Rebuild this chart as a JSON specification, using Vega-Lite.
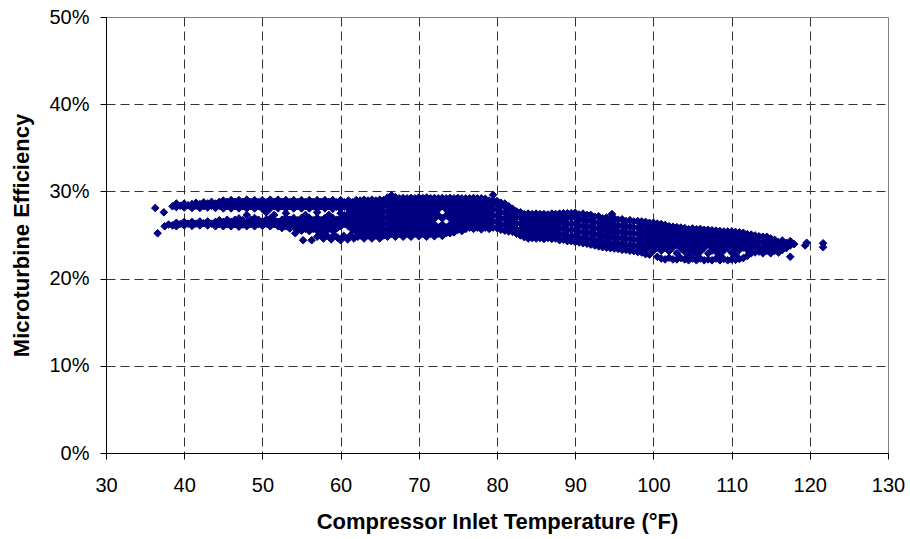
{
"$schema":"https://vega.github.io/schema/vega-lite/v6.json",
"width":782,"height":436,
"autosize":"none",
"padding":{"left":106,"top":17,"right":22,"bottom":86},
"background":"white",
"config":{"view":{"stroke":"#808080","strokeWidth":1},"font":"Liberation Sans"},
"data":{"values":[
{"t":36.3,"e":28.1},{"t":37.4,"e":27.6},{"t":36.6,"e":25.2},
{"t":37.5,"e":26.0},{"t":38.0,"e":26.2},
{"t":38.5,"e":26.1},{"t":38.5,"e":28.3},
{"t":39.0,"e":26.0},{"t":39.0,"e":26.4},{"t":39.0,"e":28.2},{"t":39.0,"e":28.6},
{"t":39.5,"e":26.25},{"t":39.5,"e":28.35},
{"t":40.0,"e":26.1},{"t":40.0,"e":26.5},{"t":40.0,"e":28.15},{"t":40.0,"e":28.6},
{"t":40.5,"e":26.3},{"t":40.5,"e":28.4},
{"t":41.0,"e":26.05},{"t":41.0,"e":26.5},{"t":41.0,"e":28.1},{"t":41.0,"e":28.55},
{"t":41.5,"e":26.3},{"t":41.5,"e":28.35},{"t":41.5,"e":28.7},
{"t":42.0,"e":26.1},{"t":42.0,"e":26.55},{"t":42.0,"e":28.1},{"t":42.0,"e":28.55},
{"t":42.5,"e":26.35},{"t":42.5,"e":28.3},{"t":42.5,"e":28.75},
{"t":43.0,"e":26.1},{"t":43.0,"e":26.55},{"t":43.0,"e":28.15},{"t":43.0,"e":28.6},
{"t":43.5,"e":26.3},{"t":43.5,"e":28.35},{"t":43.5,"e":28.8},
{"t":44.0,"e":26.0},{"t":44.0,"e":26.5},{"t":44.0,"e":28.1},{"t":44.0,"e":28.6},
{"t":44.5,"e":26.25},{"t":44.5,"e":26.7},{"t":44.5,"e":28.35},{"t":44.5,"e":28.8},
{"t":45.0,"e":26.0},{"t":45.0,"e":26.5},{"t":45.0,"e":28.05},{"t":45.0,"e":28.55},{"t":45.0,"e":28.95},
{"t":45.5,"e":26.25},{"t":45.5,"e":26.75},{"t":45.5,"e":28.3},{"t":45.5,"e":28.8},
{"t":46.0,"e":26.0},{"t":46.0,"e":26.5},{"t":46.0,"e":28.05},{"t":46.0,"e":28.55},{"t":46.0,"e":29.0},
{"t":46.5,"e":26.25},{"t":46.5,"e":26.75},{"t":46.5,"e":28.3},{"t":46.5,"e":28.8},
{"t":47.0,"e":25.95},{"t":47.0,"e":26.45},{"t":47.0,"e":26.9},{"t":47.0,"e":28.05},{"t":47.0,"e":28.55},{"t":47.0,"e":29.0},
{"t":47.5,"e":26.2},{"t":47.5,"e":26.7},{"t":47.5,"e":28.3},{"t":47.5,"e":28.8},
{"t":48.0,"e":26.0},{"t":48.0,"e":26.5},{"t":48.0,"e":27.3},{"t":48.0,"e":28.05},{"t":48.0,"e":28.55},{"t":48.0,"e":29.05},
{"t":48.5,"e":26.25},{"t":48.5,"e":26.75},{"t":48.5,"e":28.3},{"t":48.5,"e":28.8},
{"t":49.0,"e":26.0},{"t":49.0,"e":26.5},{"t":49.0,"e":26.95},{"t":49.0,"e":28.05},{"t":49.0,"e":28.55},{"t":49.0,"e":29.0},
{"t":49.5,"e":26.25},{"t":49.5,"e":26.75},{"t":49.5,"e":28.3},{"t":49.5,"e":28.8},
{"t":50.0,"e":26.05},{"t":50.0,"e":26.55},{"t":50.0,"e":28.0},{"t":50.0,"e":28.5},{"t":50.0,"e":29.0},
{"t":50.5,"e":26.3},{"t":50.5,"e":26.8},{"t":50.5,"e":27.6},{"t":50.5,"e":28.25},{"t":50.5,"e":28.75},
{"t":51.0,"e":26.0},{"t":51.0,"e":26.5},{"t":51.0,"e":26.9},{"t":51.0,"e":28.05},{"t":51.0,"e":28.55},{"t":51.0,"e":29.05},
{"t":51.5,"e":26.25},{"t":51.5,"e":26.75},{"t":51.5,"e":27.3},{"t":51.5,"e":28.3},{"t":51.5,"e":28.8},
{"t":52.0,"e":26.0},{"t":52.0,"e":26.5},{"t":52.0,"e":28.05},{"t":52.0,"e":28.55},{"t":52.0,"e":29.05},
{"t":52.5,"e":25.8},{"t":52.5,"e":26.25},{"t":52.5,"e":26.75},{"t":52.5,"e":28.3},{"t":52.5,"e":28.8},
{"t":53.0,"e":26.0},{"t":53.0,"e":26.5},{"t":53.0,"e":27.0},{"t":53.0,"e":27.5},{"t":53.0,"e":28.05},{"t":53.0,"e":28.55},{"t":53.0,"e":29.0},
{"t":53.5,"e":25.75},{"t":53.5,"e":26.25},{"t":53.5,"e":26.75},{"t":53.5,"e":28.3},{"t":53.5,"e":28.8},
{"t":54.0,"e":25.95},{"t":54.0,"e":26.45},{"t":54.0,"e":26.95},{"t":54.0,"e":28.05},{"t":54.0,"e":28.55},{"t":54.0,"e":29.0},
{"t":54.5,"e":25.7},{"t":54.5,"e":26.2},{"t":54.5,"e":26.7},{"t":54.5,"e":28.3},{"t":54.5,"e":28.8},
{"t":55.0,"e":25.5},{"t":55.0,"e":25.95},{"t":55.0,"e":26.45},{"t":55.0,"e":26.95},{"t":55.0,"e":28.05},{"t":55.0,"e":28.55},{"t":55.0,"e":29.0},
{"t":55.5,"e":25.7},{"t":55.5,"e":26.2},{"t":55.5,"e":26.7},{"t":55.5,"e":27.3},{"t":55.5,"e":28.3},{"t":55.5,"e":28.8},
{"t":56.0,"e":25.45},{"t":56.0,"e":25.95},{"t":56.0,"e":26.45},{"t":56.0,"e":26.95},{"t":56.0,"e":28.05},{"t":56.0,"e":28.55},{"t":56.0,"e":29.0},
{"t":56.5,"e":25.7},{"t":56.5,"e":26.2},{"t":56.5,"e":26.7},{"t":56.5,"e":28.3},{"t":56.5,"e":28.8},
{"t":57.0,"e":25.5},{"t":57.0,"e":25.95},{"t":57.0,"e":26.45},{"t":57.0,"e":26.95},{"t":57.0,"e":27.6},{"t":57.0,"e":28.05},{"t":57.0,"e":28.55},{"t":57.0,"e":29.0},
{"t":57.5,"e":25.7},{"t":57.5,"e":26.2},{"t":57.5,"e":26.7},{"t":57.5,"e":28.3},{"t":57.5,"e":28.8},
{"t":58.0,"e":25.45},{"t":58.0,"e":25.95},{"t":58.0,"e":26.45},{"t":58.0,"e":26.95},{"t":58.0,"e":28.05},{"t":58.0,"e":28.55},{"t":58.0,"e":29.0},
{"t":58.5,"e":25.7},{"t":58.5,"e":26.2},{"t":58.5,"e":26.7},{"t":58.5,"e":27.3},{"t":58.5,"e":28.3},{"t":58.5,"e":28.8},
{"t":59.0,"e":25.5},{"t":59.0,"e":25.95},{"t":59.0,"e":26.45},{"t":59.0,"e":26.95},{"t":59.0,"e":28.0},{"t":59.0,"e":28.5},{"t":59.0,"e":29.0},
{"t":59.5,"e":25.75},{"t":59.5,"e":26.25},{"t":59.5,"e":26.75},{"t":59.5,"e":28.25},{"t":59.5,"e":28.75},
{"t":60.0,"e":26.0},{"t":60.0,"e":26.5},{"t":60.0,"e":26.95},{"t":60.0,"e":27.5},{"t":60.0,"e":28.0},{"t":60.0,"e":28.5},{"t":60.0,"e":29.0},
{"t":60.5,"e":26.25},{"t":60.5,"e":26.75},{"t":60.5,"e":27.25},{"t":60.5,"e":28.25},{"t":60.5,"e":28.75},
{"t":61.0,"e":26.0},{"t":61.0,"e":26.5},{"t":61.0,"e":27.0},{"t":61.0,"e":27.5},{"t":61.0,"e":28.0},{"t":61.0,"e":28.5},{"t":61.0,"e":28.95},
{"t":61.5,"e":25.6},{"t":61.5,"e":26.25},{"t":61.5,"e":26.75},{"t":61.5,"e":27.25},{"t":61.5,"e":27.75},{"t":61.5,"e":28.25},{"t":61.5,"e":28.75},
{"t":62.0,"e":25.4},{"t":62.0,"e":26.0},{"t":62.0,"e":26.5},{"t":62.0,"e":27.0},{"t":62.0,"e":27.5},{"t":62.0,"e":28.0},{"t":62.0,"e":28.5},{"t":62.0,"e":29.0},
{"t":54.2,"e":25.2},{"t":55.2,"e":24.4},{"t":56.3,"e":24.4},{"t":57.0,"e":24.8},{"t":57.4,"e":25.1},{"t":57.8,"e":24.6},{"t":58.3,"e":24.9},{"t":58.8,"e":24.5},{"t":59.2,"e":25.0},{"t":59.6,"e":24.7},{"t":60.0,"e":24.4},{"t":60.4,"e":24.9},{"t":60.9,"e":24.5},{"t":61.3,"e":25.0},{"t":61.7,"e":24.6},{"t":62.2,"e":24.8},
{"t":62.5,"e":24.95},{"t":62.5,"e":25.65},{"t":62.5,"e":26.35},{"t":62.5,"e":27.05},{"t":62.5,"e":27.75},{"t":62.5,"e":28.45},{"t":62.5,"e":28.95},
{"t":63.0,"e":24.6},{"t":63.0,"e":25.3},{"t":63.0,"e":26.0},{"t":63.0,"e":26.7},{"t":63.0,"e":27.4},{"t":63.0,"e":28.1},{"t":63.0,"e":28.75},{"t":63.0,"e":29.05},
{"t":63.5,"e":24.95},{"t":63.5,"e":25.65},{"t":63.5,"e":26.35},{"t":63.5,"e":27.05},{"t":63.5,"e":27.75},{"t":63.5,"e":28.45},{"t":63.5,"e":28.95},
{"t":64.0,"e":24.6},{"t":64.0,"e":25.3},{"t":64.0,"e":26.0},{"t":64.0,"e":26.7},{"t":64.0,"e":27.4},{"t":64.0,"e":28.1},{"t":64.0,"e":28.75},{"t":64.0,"e":29.05},
{"t":64.5,"e":24.95},{"t":64.5,"e":25.65},{"t":64.5,"e":26.35},{"t":64.5,"e":27.05},{"t":64.5,"e":27.75},{"t":64.5,"e":28.45},{"t":64.5,"e":28.95},
{"t":65.0,"e":24.6},{"t":65.0,"e":25.3},{"t":65.0,"e":26.0},{"t":65.0,"e":26.7},{"t":65.0,"e":27.4},{"t":65.0,"e":28.1},{"t":65.0,"e":28.75},{"t":65.0,"e":29.05},
{"t":65.5,"e":24.95},{"t":65.5,"e":25.65},{"t":65.5,"e":26.35},{"t":65.5,"e":27.05},{"t":65.5,"e":27.75},{"t":65.5,"e":28.45},{"t":65.5,"e":29.0},
{"t":66.0,"e":24.8},{"t":66.0,"e":25.5},{"t":66.0,"e":26.2},{"t":66.0,"e":26.9},{"t":66.0,"e":27.6},{"t":66.0,"e":28.3},{"t":66.0,"e":28.9},{"t":66.0,"e":29.3},
{"t":66.5,"e":25.15},{"t":66.5,"e":25.85},{"t":66.5,"e":26.55},{"t":66.5,"e":27.25},{"t":66.5,"e":27.95},{"t":66.5,"e":28.65},{"t":66.5,"e":29.2},{"t":66.5,"e":29.55},
{"t":67.0,"e":24.8},{"t":67.0,"e":25.5},{"t":67.0,"e":26.2},{"t":67.0,"e":26.9},{"t":67.0,"e":27.6},{"t":67.0,"e":28.3},{"t":67.0,"e":28.9},{"t":67.0,"e":29.35},
{"t":67.5,"e":25.15},{"t":67.5,"e":25.85},{"t":67.5,"e":26.55},{"t":67.5,"e":27.25},{"t":67.5,"e":27.95},{"t":67.5,"e":28.65},{"t":67.5,"e":29.2},
{"t":68.0,"e":24.8},{"t":68.0,"e":25.5},{"t":68.0,"e":26.2},{"t":68.0,"e":26.9},{"t":68.0,"e":27.6},{"t":68.0,"e":28.3},{"t":68.0,"e":28.9},{"t":68.0,"e":29.25},
{"t":68.5,"e":25.15},{"t":68.5,"e":25.85},{"t":68.5,"e":26.55},{"t":68.5,"e":27.25},{"t":68.5,"e":27.95},{"t":68.5,"e":28.65},{"t":68.5,"e":29.2},
{"t":69.0,"e":24.8},{"t":69.0,"e":25.5},{"t":69.0,"e":26.2},{"t":69.0,"e":26.9},{"t":69.0,"e":27.6},{"t":69.0,"e":28.3},{"t":69.0,"e":28.9},{"t":69.0,"e":29.25},
{"t":69.5,"e":25.15},{"t":69.5,"e":25.85},{"t":69.5,"e":26.55},{"t":69.5,"e":27.25},{"t":69.5,"e":27.95},{"t":69.5,"e":28.65},{"t":69.5,"e":29.2},
{"t":70.0,"e":24.85},{"t":70.0,"e":25.5},{"t":70.0,"e":26.2},{"t":70.0,"e":26.9},{"t":70.0,"e":27.6},{"t":70.0,"e":28.3},{"t":70.0,"e":28.9},{"t":70.0,"e":29.3},
{"t":70.5,"e":25.15},{"t":70.5,"e":25.85},{"t":70.5,"e":26.55},{"t":70.5,"e":27.25},{"t":70.5,"e":27.95},{"t":70.5,"e":28.65},{"t":70.5,"e":29.25},
{"t":71.0,"e":24.8},{"t":71.0,"e":25.5},{"t":71.0,"e":26.2},{"t":71.0,"e":26.9},{"t":71.0,"e":27.6},{"t":71.0,"e":28.3},{"t":71.0,"e":28.9},{"t":71.0,"e":29.3},
{"t":71.5,"e":25.15},{"t":71.5,"e":25.85},{"t":71.5,"e":26.55},{"t":71.5,"e":27.25},{"t":71.5,"e":27.95},{"t":71.5,"e":28.65},{"t":71.5,"e":29.2},
{"t":72.0,"e":24.85},{"t":72.0,"e":25.5},{"t":72.0,"e":26.2},{"t":72.0,"e":26.9},{"t":72.0,"e":27.6},{"t":72.0,"e":28.3},{"t":72.0,"e":28.9},{"t":72.0,"e":29.25},
{"t":72.5,"e":25.15},{"t":72.5,"e":25.85},{"t":72.5,"e":27.25},{"t":72.5,"e":27.95},{"t":72.5,"e":28.65},{"t":72.5,"e":29.2},
{"t":73.0,"e":24.9},{"t":73.0,"e":25.5},{"t":73.0,"e":26.2},{"t":73.0,"e":26.9},{"t":73.0,"e":28.3},{"t":73.0,"e":28.9},{"t":73.0,"e":29.25},
{"t":73.5,"e":25.2},{"t":73.5,"e":25.85},{"t":73.5,"e":27.25},{"t":73.5,"e":27.95},{"t":73.5,"e":28.65},{"t":73.5,"e":29.2},
{"t":74.0,"e":25.2},{"t":74.0,"e":25.6},{"t":74.0,"e":26.2},{"t":74.0,"e":26.9},{"t":74.0,"e":27.6},{"t":74.0,"e":28.3},{"t":74.0,"e":28.9},{"t":74.0,"e":29.25},
{"t":74.5,"e":25.3},{"t":74.5,"e":25.85},{"t":74.5,"e":26.55},{"t":74.5,"e":27.25},{"t":74.5,"e":27.95},{"t":74.5,"e":28.65},{"t":74.5,"e":29.2},
{"t":75.0,"e":25.6},{"t":75.0,"e":26.2},{"t":75.0,"e":26.9},{"t":75.0,"e":27.6},{"t":75.0,"e":28.3},{"t":75.0,"e":28.9},{"t":75.0,"e":29.25},
{"t":75.5,"e":25.45},{"t":75.5,"e":25.95},{"t":75.5,"e":26.55},{"t":75.5,"e":27.25},{"t":75.5,"e":27.95},{"t":75.5,"e":28.65},{"t":75.5,"e":29.2},
{"t":76.0,"e":25.7},{"t":76.0,"e":26.2},{"t":76.0,"e":26.9},{"t":76.0,"e":27.6},{"t":76.0,"e":28.3},{"t":76.0,"e":28.9},{"t":76.0,"e":29.2},
{"t":76.5,"e":25.85},{"t":76.5,"e":26.55},{"t":76.5,"e":27.25},{"t":76.5,"e":27.95},{"t":76.5,"e":28.65},{"t":76.5,"e":29.2},
{"t":77.0,"e":25.7},{"t":77.0,"e":26.2},{"t":77.0,"e":26.9},{"t":77.0,"e":27.6},{"t":77.0,"e":28.3},{"t":77.0,"e":28.9},{"t":77.0,"e":29.25},
{"t":77.5,"e":25.85},{"t":77.5,"e":26.55},{"t":77.5,"e":27.25},{"t":77.5,"e":27.95},{"t":77.5,"e":28.65},{"t":77.5,"e":29.2},
{"t":78.0,"e":25.65},{"t":78.0,"e":26.2},{"t":78.0,"e":26.9},{"t":78.0,"e":27.6},{"t":78.0,"e":28.3},{"t":78.0,"e":28.9},{"t":78.0,"e":29.2},
{"t":78.5,"e":25.85},{"t":78.5,"e":26.55},{"t":78.5,"e":27.25},{"t":78.5,"e":27.95},{"t":78.5,"e":28.65},{"t":78.5,"e":29.15},
{"t":79.0,"e":25.7},{"t":79.0,"e":26.2},{"t":79.0,"e":26.9},{"t":79.0,"e":27.6},{"t":79.0,"e":28.3},{"t":79.0,"e":28.95},
{"t":79.5,"e":25.85},{"t":79.5,"e":26.55},{"t":79.5,"e":27.25},{"t":79.5,"e":27.95},{"t":79.5,"e":28.65},{"t":79.5,"e":28.95},{"t":79.5,"e":29.6},
{"t":80.0,"e":25.8},{"t":80.0,"e":26.5},{"t":80.0,"e":27.2},{"t":80.0,"e":27.9},{"t":80.0,"e":28.5},{"t":80.0,"e":28.9},
{"t":80.5,"e":25.6},{"t":80.5,"e":26.15},{"t":80.5,"e":26.85},{"t":80.5,"e":27.55},{"t":80.5,"e":28.25},{"t":80.5,"e":28.7},
{"t":81.0,"e":25.5},{"t":81.0,"e":26.2},{"t":81.0,"e":26.9},{"t":81.0,"e":27.6},{"t":81.0,"e":28.3},{"t":81.0,"e":28.6},
{"t":81.5,"e":25.4},{"t":81.5,"e":25.85},{"t":81.5,"e":26.55},{"t":81.5,"e":27.25},{"t":81.5,"e":27.95},{"t":81.5,"e":28.3},
{"t":82.0,"e":25.35},{"t":82.0,"e":26.0},{"t":82.0,"e":26.7},{"t":82.0,"e":27.4},{"t":82.0,"e":28.0},
{"t":82.5,"e":25.15},{"t":82.5,"e":25.65},{"t":82.5,"e":26.35},{"t":82.5,"e":27.05},{"t":82.5,"e":27.7},
{"t":83.0,"e":24.95},{"t":83.0,"e":25.6},{"t":83.0,"e":26.3},{"t":83.0,"e":27.0},{"t":83.0,"e":27.6},
{"t":83.5,"e":24.75},{"t":83.5,"e":25.3},{"t":83.5,"e":26.0},{"t":83.5,"e":26.7},{"t":83.5,"e":27.4},
{"t":84.0,"e":24.6},{"t":84.0,"e":25.0},{"t":84.0,"e":25.7},{"t":84.0,"e":26.4},{"t":84.0,"e":27.1},{"t":84.0,"e":27.45},
{"t":84.5,"e":24.65},{"t":84.5,"e":25.35},{"t":84.5,"e":26.05},{"t":84.5,"e":26.75},{"t":84.5,"e":27.4},
{"t":85.0,"e":24.6},{"t":85.0,"e":25.0},{"t":85.0,"e":25.7},{"t":85.0,"e":26.4},{"t":85.0,"e":27.1},{"t":85.0,"e":27.45},
{"t":85.5,"e":24.65},{"t":85.5,"e":25.35},{"t":85.5,"e":26.05},{"t":85.5,"e":26.75},{"t":85.5,"e":27.4},
{"t":86.0,"e":24.55},{"t":86.0,"e":25.0},{"t":86.0,"e":25.7},{"t":86.0,"e":26.4},{"t":86.0,"e":27.1},{"t":86.0,"e":27.4},
{"t":86.5,"e":24.65},{"t":86.5,"e":25.35},{"t":86.5,"e":26.05},{"t":86.5,"e":26.75},{"t":86.5,"e":27.35},
{"t":87.0,"e":24.55},{"t":87.0,"e":25.0},{"t":87.0,"e":25.7},{"t":87.0,"e":26.4},{"t":87.0,"e":27.1},{"t":87.0,"e":27.45},
{"t":87.5,"e":24.6},{"t":87.5,"e":25.35},{"t":87.5,"e":26.05},{"t":87.5,"e":26.75},{"t":87.5,"e":27.4},
{"t":88.0,"e":24.4},{"t":88.0,"e":25.0},{"t":88.0,"e":25.7},{"t":88.0,"e":26.4},{"t":88.0,"e":27.1},{"t":88.0,"e":27.45},
{"t":88.5,"e":24.45},{"t":88.5,"e":25.15},{"t":88.5,"e":25.85},{"t":88.5,"e":26.55},{"t":88.5,"e":27.25},{"t":88.5,"e":27.5},
{"t":89.0,"e":24.3},{"t":89.0,"e":24.9},{"t":89.0,"e":25.6},{"t":89.0,"e":26.3},{"t":89.0,"e":27.0},{"t":89.0,"e":27.5},
{"t":89.5,"e":24.3},{"t":89.5,"e":24.85},{"t":89.5,"e":25.55},{"t":89.5,"e":26.25},{"t":89.5,"e":26.95},{"t":89.5,"e":27.5},
{"t":90.0,"e":24.2},{"t":90.0,"e":24.9},{"t":90.0,"e":25.6},{"t":90.0,"e":26.3},{"t":90.0,"e":27.0},{"t":90.0,"e":27.55},
{"t":90.5,"e":24.15},{"t":90.5,"e":24.6},{"t":90.5,"e":25.3},{"t":90.5,"e":26.0},{"t":90.5,"e":26.7},{"t":90.5,"e":27.35},
{"t":91.0,"e":24.05},{"t":91.0,"e":24.7},{"t":91.0,"e":25.4},{"t":91.0,"e":26.1},{"t":91.0,"e":26.8},{"t":91.0,"e":27.45},
{"t":91.5,"e":24.0},{"t":91.5,"e":24.5},{"t":91.5,"e":25.2},{"t":91.5,"e":25.9},{"t":91.5,"e":26.6},{"t":91.5,"e":27.3},
{"t":92.0,"e":23.9},{"t":92.0,"e":24.6},{"t":92.0,"e":25.3},{"t":92.0,"e":26.0},{"t":92.0,"e":26.7},{"t":92.0,"e":27.3},
{"t":92.5,"e":23.8},{"t":92.5,"e":24.3},{"t":92.5,"e":25.0},{"t":92.5,"e":25.7},{"t":92.5,"e":26.4},{"t":92.5,"e":27.1},
{"t":93.0,"e":23.7},{"t":93.0,"e":24.4},{"t":93.0,"e":25.1},{"t":93.0,"e":25.8},{"t":93.0,"e":26.5},{"t":93.0,"e":27.15},
{"t":93.5,"e":23.6},{"t":93.5,"e":24.1},{"t":93.5,"e":24.8},{"t":93.5,"e":25.5},{"t":93.5,"e":26.2},{"t":93.5,"e":26.9},
{"t":94.0,"e":23.55},{"t":94.0,"e":24.25},{"t":94.0,"e":24.95},{"t":94.0,"e":25.65},{"t":94.0,"e":26.35},{"t":94.0,"e":27.0},
{"t":94.5,"e":23.5},{"t":94.5,"e":23.95},{"t":94.5,"e":24.65},{"t":94.5,"e":25.35},{"t":94.5,"e":26.05},{"t":94.5,"e":26.75},
{"t":94.7,"e":27.4},
{"t":95.0,"e":23.45},{"t":95.0,"e":24.1},{"t":95.0,"e":24.8},{"t":95.0,"e":25.5},{"t":95.0,"e":26.2},{"t":95.0,"e":26.9},
{"t":95.5,"e":23.4},{"t":95.5,"e":23.9},{"t":95.5,"e":24.6},{"t":95.5,"e":25.3},{"t":95.5,"e":26.0},{"t":95.5,"e":26.75},
{"t":96.0,"e":23.3},{"t":96.0,"e":24.0},{"t":96.0,"e":24.7},{"t":96.0,"e":25.4},{"t":96.0,"e":26.1},{"t":96.0,"e":26.8},
{"t":96.5,"e":23.3},{"t":96.5,"e":23.8},{"t":96.5,"e":24.5},{"t":96.5,"e":25.2},{"t":96.5,"e":25.9},{"t":96.5,"e":26.6},
{"t":97.0,"e":23.2},{"t":97.0,"e":23.9},{"t":97.0,"e":24.6},{"t":97.0,"e":25.3},{"t":97.0,"e":26.0},{"t":97.0,"e":26.7},
{"t":97.5,"e":23.15},{"t":97.5,"e":23.75},{"t":97.5,"e":24.45},{"t":97.5,"e":25.15},{"t":97.5,"e":25.85},{"t":97.5,"e":26.55},
{"t":98.0,"e":23.05},{"t":98.0,"e":23.75},{"t":98.0,"e":24.45},{"t":98.0,"e":25.15},{"t":98.0,"e":25.85},{"t":98.0,"e":26.6},
{"t":98.5,"e":23.0},{"t":98.5,"e":23.45},{"t":98.5,"e":24.1},{"t":98.5,"e":24.8},{"t":98.5,"e":25.5},{"t":98.5,"e":26.15},{"t":98.5,"e":26.55},
{"t":99.0,"e":22.8},{"t":99.0,"e":23.3},{"t":99.0,"e":23.9},{"t":99.0,"e":24.6},{"t":99.0,"e":25.3},{"t":99.0,"e":26.0},{"t":99.0,"e":26.5},
{"t":99.5,"e":22.75},{"t":99.5,"e":23.7},{"t":99.5,"e":24.3},{"t":99.5,"e":25.0},{"t":99.5,"e":25.7},{"t":99.5,"e":26.4},
{"t":100.0,"e":23.2},{"t":100.0,"e":23.95},{"t":100.0,"e":24.6},{"t":100.0,"e":25.3},{"t":100.0,"e":26.0},{"t":100.0,"e":26.4},
{"t":100.5,"e":22.5},{"t":100.5,"e":23.55},{"t":100.5,"e":24.25},{"t":100.5,"e":24.95},{"t":100.5,"e":25.65},{"t":100.5,"e":26.3},
{"t":101.0,"e":22.3},{"t":101.0,"e":23.2},{"t":101.0,"e":23.9},{"t":101.0,"e":24.6},{"t":101.0,"e":25.3},{"t":101.0,"e":25.95},{"t":101.0,"e":26.25},
{"t":101.5,"e":22.2},{"t":101.5,"e":23.55},{"t":101.5,"e":24.25},{"t":101.5,"e":24.95},{"t":101.5,"e":25.65},{"t":101.5,"e":26.15},
{"t":102.0,"e":22.4},{"t":102.0,"e":23.15},{"t":102.0,"e":23.9},{"t":102.0,"e":24.6},{"t":102.0,"e":25.3},{"t":102.0,"e":26.0},
{"t":102.5,"e":22.2},{"t":102.5,"e":23.55},{"t":102.5,"e":24.25},{"t":102.5,"e":24.95},{"t":102.5,"e":25.65},{"t":102.5,"e":25.95},
{"t":103.0,"e":22.2},{"t":103.0,"e":22.9},{"t":103.0,"e":23.9},{"t":103.0,"e":24.6},{"t":103.0,"e":25.3},{"t":103.0,"e":25.9},
{"t":103.5,"e":22.35},{"t":103.5,"e":23.45},{"t":103.5,"e":24.25},{"t":103.5,"e":24.95},{"t":103.5,"e":25.65},{"t":103.5,"e":25.85},
{"t":104.0,"e":22.2},{"t":104.0,"e":23.1},{"t":104.0,"e":23.9},{"t":104.0,"e":24.6},{"t":104.0,"e":25.3},{"t":104.0,"e":25.8},
{"t":104.5,"e":22.1},{"t":104.5,"e":22.7},{"t":104.5,"e":23.55},{"t":104.5,"e":24.25},{"t":104.5,"e":24.95},{"t":104.5,"e":25.65},
{"t":105.0,"e":22.3},{"t":105.0,"e":23.2},{"t":105.0,"e":23.9},{"t":105.0,"e":24.6},{"t":105.0,"e":25.3},{"t":105.0,"e":25.75},
{"t":105.5,"e":22.1},{"t":105.5,"e":22.85},{"t":105.5,"e":23.55},{"t":105.5,"e":24.25},{"t":105.5,"e":24.95},{"t":105.5,"e":25.65},
{"t":106.0,"e":22.3},{"t":106.0,"e":23.1},{"t":106.0,"e":23.9},{"t":106.0,"e":24.6},{"t":106.0,"e":25.3},{"t":106.0,"e":25.7},
{"t":106.5,"e":22.1},{"t":106.5,"e":23.55},{"t":106.5,"e":24.25},{"t":106.5,"e":24.95},{"t":106.5,"e":25.6},
{"t":107.0,"e":22.2},{"t":107.0,"e":22.9},{"t":107.0,"e":23.9},{"t":107.0,"e":24.6},{"t":107.0,"e":25.3},{"t":107.0,"e":25.6},
{"t":107.5,"e":22.1},{"t":107.5,"e":23.2},{"t":107.5,"e":23.55},{"t":107.5,"e":24.25},{"t":107.5,"e":24.95},{"t":107.5,"e":25.55},
{"t":108.0,"e":22.3},{"t":108.0,"e":23.1},{"t":108.0,"e":23.9},{"t":108.0,"e":24.6},{"t":108.0,"e":25.2},{"t":108.0,"e":25.5},
{"t":108.5,"e":22.1},{"t":108.5,"e":22.7},{"t":108.5,"e":23.55},{"t":108.5,"e":24.25},{"t":108.5,"e":24.95},{"t":108.5,"e":25.45},
{"t":109.0,"e":22.25},{"t":109.0,"e":23.2},{"t":109.0,"e":23.9},{"t":109.0,"e":24.6},{"t":109.0,"e":25.1},{"t":109.0,"e":25.4},
{"t":109.5,"e":22.1},{"t":109.5,"e":23.55},{"t":109.5,"e":24.25},{"t":109.5,"e":24.95},{"t":109.5,"e":25.4},
{"t":110.0,"e":22.2},{"t":110.0,"e":23.0},{"t":110.0,"e":23.9},{"t":110.0,"e":24.6},{"t":110.0,"e":25.0},{"t":110.0,"e":25.4},
{"t":110.5,"e":22.15},{"t":110.5,"e":22.75},{"t":110.5,"e":23.55},{"t":110.5,"e":24.25},{"t":110.5,"e":24.85},{"t":110.5,"e":25.35},
{"t":111.0,"e":22.25},{"t":111.0,"e":23.3},{"t":111.0,"e":23.9},{"t":111.0,"e":24.6},{"t":111.0,"e":25.3},
{"t":111.5,"e":22.35},{"t":111.5,"e":23.55},{"t":111.5,"e":24.25},{"t":111.5,"e":24.85},{"t":111.5,"e":25.25},
{"t":112.0,"e":22.6},{"t":112.0,"e":23.3},{"t":112.0,"e":23.9},{"t":112.0,"e":24.55},{"t":112.0,"e":25.1},
{"t":112.5,"e":22.9},{"t":112.5,"e":23.55},{"t":112.5,"e":24.2},{"t":112.5,"e":24.8},{"t":112.5,"e":25.05},
{"t":113.0,"e":23.0},{"t":113.0,"e":23.7},{"t":113.0,"e":24.35},{"t":113.0,"e":24.95},
{"t":113.5,"e":23.1},{"t":113.5,"e":23.55},{"t":113.5,"e":24.2},{"t":113.5,"e":24.85},
{"t":114.0,"e":22.9},{"t":114.0,"e":23.5},{"t":114.0,"e":24.15},{"t":114.0,"e":24.8},
{"t":114.5,"e":23.2},{"t":114.5,"e":23.85},{"t":114.5,"e":24.5},{"t":114.5,"e":24.8},
{"t":115.0,"e":22.9},{"t":115.0,"e":23.5},{"t":115.0,"e":24.1},{"t":115.0,"e":24.6},
{"t":115.5,"e":23.2},{"t":115.5,"e":23.8},{"t":115.5,"e":24.45},
{"t":116.0,"e":23.0},{"t":116.0,"e":23.6},{"t":116.0,"e":24.2},
{"t":116.5,"e":23.3},{"t":116.5,"e":23.9},{"t":116.5,"e":24.35},
{"t":117.0,"e":23.5},{"t":117.0,"e":24.1},
{"t":117.5,"e":22.5},{"t":117.5,"e":23.8},{"t":117.5,"e":24.3},
{"t":118.0,"e":23.95},
{"t":119.4,"e":23.8},{"t":119.6,"e":24.1},
{"t":121.7,"e":23.6},{"t":121.7,"e":24.05}
]},
"mark":{"type":"point","shape":"diamond","filled":true,"size":58,"color":"#000080","fill":"#000080","stroke":"#000080","strokeWidth":1,"opacity":1},
"encoding":{
"x":{"field":"t","type":"quantitative","scale":{"domain":[30,130],"nice":false,"zero":false},
"axis":{"values":[30,40,50,60,70,80,90,100,110,120,130],"title":"Compressor Inlet Temperature (°F)",
"labelFontSize":20,"labelColor":"#000","labelFont":"Liberation Sans","labelPadding":16,
"titleFontSize":22,"titleFontWeight":"bold","titleColor":"#000","titleFont":"Liberation Sans","titlePadding":16,
"domainColor":"#000","domainWidth":1,"tickColor":"#000","tickSize":6,"tickWidth":1,
"grid":true,"gridColor":"#333","gridDash":[9,5],"gridWidth":1,
"gridOpacity":{"condition":{"test":"datum.value == 130","value":0},"value":1},
"labelFlush":false,"labelOverlap":false}},
"y":{"field":"e","type":"quantitative","scale":{"domain":[0,50],"nice":false,"zero":true},
"axis":{"values":[0,10,20,30,40,50],"labelExpr":"datum.value + '%'","title":"Microturbine Efficiency",
"labelFontSize":20,"labelColor":"#000","labelFont":"Liberation Sans","labelPadding":11,
"titleFontSize":22,"titleFontWeight":"bold","titleColor":"#000","titleFont":"Liberation Sans","titlePadding":15,
"domainColor":"#000","domainWidth":1,"tickColor":"#000","tickSize":6,"tickWidth":1,
"grid":true,"gridColor":"#333","gridDash":[9,5],"gridWidth":1,
"gridOpacity":{"condition":{"test":"datum.value == 50","value":0},"value":1},
"labelFlush":false,"labelOverlap":false}}
}
}
